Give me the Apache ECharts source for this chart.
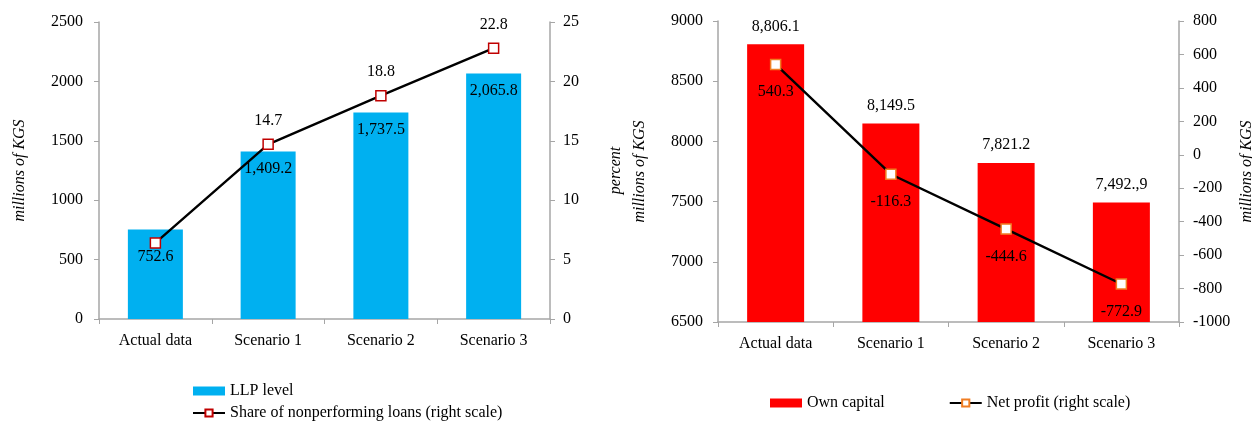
<!DOCTYPE html>
<html>

<head>
    <meta charset="utf-8">
    <script src="https://cdn.jsdelivr.net/npm/echarts@6/dist/echarts.min.js"></script>
    <style>
        body { margin: 0; background: #fff; }
        #main { width: 1252px; height: 421px; }
    </style>
</head>

<body>
    <div id="main"></div>
    <script type="text/javascript">

        var categories = ['Actual data', 'Scenario 1', 'Scenario 2', 'Scenario 3'];

        // left panel
        var llpLevel = [752.6, 1409.2, 1737.5, 2065.8];
        var npShare = [6.4, 14.7, 18.8, 22.8];
        var npShareLabels = ['', '14.7', '18.8', '22.8'];

        // right panel
        var ownCapital = [8806.1, 8149.5, 7821.2, 7492.9];
        var ownCapitalLabels = ['8,806.1', '8,149.5', '7,821.2', '7,492.,9'];
        var netProfit = [540.3, -116.3, -444.6, -772.9];

        var font = 'Liberation Serif';
        var axisGrey = '#A6A6A6';

        function fmt(v) {
            return v.toLocaleString('en-US', { minimumFractionDigits: 1, maximumFractionDigits: 1 });
        }

        var txt = { fontFamily: font, fontSize: 16, color: '#000' };

        function catAxis(gi) {
            return {
                type: 'category', gridIndex: gi, data: categories,
                axisLine: { onZero: false, lineStyle: { color: axisGrey, width: 1.5 } },
                axisTick: { show: true, length: 5, lineStyle: { color: axisGrey } },
                axisLabel: Object.assign({ margin: 14 }, txt),
                splitLine: { show: false }
            };
        }

        function valAxis(gi, pos, min, max, step, name, gap, margin) {
            return {
                type: 'value', gridIndex: gi, position: pos,
                min: min, max: max, interval: step,
                name: name, nameLocation: 'middle', nameRotate: 90, nameGap: gap,
                nameTextStyle: { fontFamily: font, fontSize: 16, fontStyle: 'italic', color: '#000' },
                axisLine: { show: true, lineStyle: { color: axisGrey, width: 1.5 } },
                axisTick: { show: true, length: 5, lineStyle: { color: axisGrey } },
                axisLabel: Object.assign({ margin: margin, formatter: function (v) { return String(v); } }, txt),
                splitLine: { show: false }
            };
        }

        var chart = echarts.init(document.getElementById('main'));

        chart.setOption({
            animation: false,
            backgroundColor: '#fff',
            grid: [
                { left: 99, right: 702, top: 22, bottom: 102, outerBoundsMode: 'none' },
                { left: 718, right: 73, top: 21, bottom: 99, outerBoundsMode: 'none' }
            ],
            xAxis: [catAxis(0), catAxis(1)],
            yAxis: [
                valAxis(0, 'left', 0, 2500, 500, 'millions of KGS', 71, 16),
                valAxis(0, 'right', 0, 25, 5, 'percent', 58, 13),
                valAxis(1, 'left', 6500, 9000, 500, 'millions of KGS', 70, 15),
                valAxis(1, 'right', -1000, 800, 200, 'millions of KGS', 60, 14)
            ],
            legend: [
                {
                    orient: 'vertical', left: 192, top: 383, itemGap: 6, padding: 0,
                    itemWidth: 32, itemHeight: 9,
                    textStyle: txt,
                    data: [{ name: 'LLP level', icon: 'rect' }, 'Share of nonperforming loans (right scale)']
                },
                {
                    orient: 'horizontal', left: 770, top: 395, itemGap: 64, padding: 0,
                    itemWidth: 32, itemHeight: 9,
                    textStyle: txt,
                    data: [{ name: 'Own capital', icon: 'rect' }, 'Net profit (right scale)']
                }
            ],
            series: [
                {
                    name: 'LLP level', type: 'bar', xAxisIndex: 0, yAxisIndex: 0,
                    data: llpLevel.map(function (v, i) {
                        var item = { value: v };
                        if (i === 0) item.label = { offset: [0, 10] };
                        return item;
                    }),
                    barWidth: 55,
                    itemStyle: { color: '#00B0F0' },
                    label: Object.assign({
                        show: true, position: 'insideTop', distance: 9,
                        formatter: function (p) { return fmt(p.value); }
                    }, txt)
                },
                {
                    name: 'Share of nonperforming loans (right scale)', type: 'line',
                    xAxisIndex: 0, yAxisIndex: 1, data: npShare,
                    symbol: 'rect', symbolSize: 10,
                    lineStyle: { color: '#000', width: 2.4 },
                    itemStyle: { color: '#fff', borderColor: '#C00000', borderWidth: 1.5 },
                    label: Object.assign({
                        show: true, position: 'top', distance: 10,
                        formatter: function (p) { return npShareLabels[p.dataIndex]; }
                    }, txt),
                    z: 5
                },
                {
                    name: 'Own capital', type: 'bar', xAxisIndex: 1, yAxisIndex: 2,
                    data: ownCapital, barWidth: 57,
                    itemStyle: { color: '#FF0000' },
                    label: Object.assign({
                        show: true, position: 'top', distance: 10,
                        formatter: function (p) { return ownCapitalLabels[p.dataIndex]; }
                    }, txt)
                },
                {
                    name: 'Net profit (right scale)', type: 'line',
                    xAxisIndex: 1, yAxisIndex: 3, data: netProfit,
                    symbol: 'rect', symbolSize: 10,
                    lineStyle: { color: '#000', width: 2.4 },
                    itemStyle: { color: '#fff', borderColor: '#F07D22', borderWidth: 1.5 },
                    label: Object.assign({
                        show: true, position: 'bottom', distance: 14,
                        formatter: function (p) { return fmt(p.value); }
                    }, txt),
                    z: 5
                }
            ]
        });
    </script>
</body>

</html>
